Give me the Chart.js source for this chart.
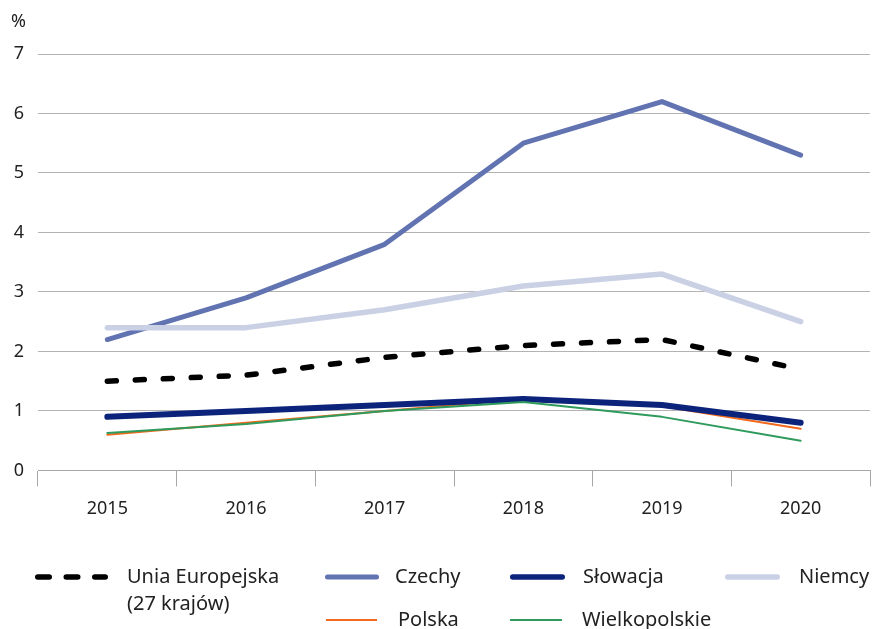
<!DOCTYPE html>
<html>
<head>
<meta charset="utf-8">
<script src="https://cdn.jsdelivr.net/npm/chart.js@4/dist/chart.umd.min.js"></script>
<style>
  html, body { margin: 0; padding: 0; background: #fff; }
  #wrap { position: relative; width: 872px; height: 629px; font-family: "Noto Sans", sans-serif; color: #222; }
  canvas { position: absolute; left: 0; top: 0; }
  .t { position: absolute; font-size: 20px; line-height: 26px; white-space: nowrap; color: #222; }
  svg.sw { position: absolute; overflow: visible; }
</style>
</head>
<body>
<div id="wrap">
  <canvas id="c" width="872" height="629"></canvas>
  <div class="t" id="unit" style="left:11px; top:7px; font-size:18px;"></div>
  <div id="legend"></div>
</div>
<script>
const years = ["2015", "2016", "2017", "2018", "2019", "2020"];
const yTicks = [0, 1, 2, 3, 4, 5, 6, 7];
const unitLabel = "%";

const euLabel = ["Unia Europejska", "(27 krajów)"];
const euValues = [1.5, 1.6, 1.9, 2.1, 2.2, 1.7];
const czechyValues = [2.2, 2.9, 3.8, 5.5, 6.2, 5.3];
const slowacjaValues = [0.9, 1.0, 1.1, 1.2, 1.1, 0.8];
const niemcyValues = [2.4, 2.4, 2.7, 3.1, 3.3, 2.5];
const polskaValues = [0.6, 0.8, 1.0, 1.2, 1.08, 0.7];
const wielkopolskieValues = [0.63, 0.78, 1.0, 1.15, 0.9, 0.5];

document.getElementById("unit").textContent = unitLabel;

const C_CZ = "#6173b1", C_SK = "#0b237a", C_DE = "#cbd1e5", C_PL = "#f2681c", C_WLKP = "#2e9a5c", C_EU = "#000000";

const datasets = [
  { label: "Niemcy", data: niemcyValues, borderColor: C_DE, borderWidth: 5.5 },
  { label: "Czechy", data: czechyValues, borderColor: C_CZ, borderWidth: 5 },
  { label: euLabel.join(" "), data: euValues, borderColor: C_EU, borderWidth: 5.5, borderDash: [9, 19], borderCapStyle: "round" },
  { label: "Wielkopolskie", data: wielkopolskieValues, borderColor: C_WLKP, borderWidth: 2 },
  { label: "Słowacja", data: slowacjaValues, borderColor: C_SK, borderWidth: 6 },
  { label: "Polska", data: polskaValues, borderColor: C_PL, borderWidth: 2 }
].map(d => Object.assign({ pointRadius: 0, pointHoverRadius: 0, tension: 0, fill: false, borderCapStyle: d.borderCapStyle || "round", borderJoinStyle: "round" }, d));

new Chart(document.getElementById("c"), {
  type: "line",
  data: { labels: years, datasets },
  options: {
    responsive: false,
    animation: false,
    events: [],
    layout: { padding: { left: 0, right: 2, top: 54, bottom: 97 } },
    plugins: { legend: { display: false }, tooltip: { enabled: false } },
    scales: {
      x: {
        offset: true,
        grid: { offset: true, drawOnChartArea: false, drawTicks: true, tickLength: 16, color: "#a6a6a6", lineWidth: 1 },
        border: { display: true, color: "#a6a6a6", width: 1 },
        ticks: { color: "#222", font: { family: "Noto Sans", size: 18 }, padding: 12, maxRotation: 0 }
      },
      y: {
        min: 0, max: 7,
        afterBuildTicks: s => { s.ticks = yTicks.map(v => ({ value: v })); },
        afterFit: s => { s.width = 38; },
        grid: { drawTicks: false, color: "#b3b3b3", lineWidth: 1 },
        border: { display: false },
        ticks: { color: "#222", font: { family: "Noto Sans", size: 18 }, padding: 14 }
      }
    }
  }
});

// HTML legend
const legendItems = [
  { text: euLabel, color: C_EU, width: 5.5, dash: true, x1: 35, x2: 108, y: 577, tx: 127, ty: 576 },
  { text: ["Czechy"], color: C_CZ, width: 5, x1: 325, x2: 379, y: 577, tx: 395, ty: 576 },
  { text: ["Słowacja"], color: C_SK, width: 5.5, x1: 510, x2: 565, y: 577, tx: 583, ty: 576 },
  { text: ["Niemcy"], color: C_DE, width: 5.5, x1: 725, x2: 780, y: 577, tx: 799, ty: 576 },
  { text: ["Polska"], color: C_PL, width: 2, x1: 326, x2: 377, y: 620, tx: 398, ty: 619 },
  { text: ["Wielkopolskie"], color: C_WLKP, width: 2, x1: 510, x2: 562, y: 620, tx: 582, ty: 619 }
];
const lg = document.getElementById("legend");
legendItems.forEach(it => {
  const svg = document.createElementNS("http://www.w3.org/2000/svg", "svg");
  svg.setAttribute("class", "sw");
  svg.setAttribute("width", 872); svg.setAttribute("height", 629);
  svg.style.left = "0px"; svg.style.top = "0px";
  const ln = document.createElementNS("http://www.w3.org/2000/svg", "line");
  const cap = it.width / 2;
  ln.setAttribute("x1", it.x1 + cap); ln.setAttribute("x2", it.x2 - cap);
  ln.setAttribute("y1", it.y); ln.setAttribute("y2", it.y);
  ln.setAttribute("stroke", it.color); ln.setAttribute("stroke-width", it.width);
  ln.setAttribute("stroke-linecap", it.width > 3 ? "round" : "butt");
  if (it.width <= 3) { ln.setAttribute("x1", it.x1); ln.setAttribute("x2", it.x2); }
  if (it.dash) ln.setAttribute("stroke-dasharray", "11.5 17");
  svg.appendChild(ln);
  lg.appendChild(svg);
  it.text.forEach((t, i) => {
    const d = document.createElement("div");
    d.className = "t";
    d.textContent = t;
    d.style.left = it.tx + "px";
    d.style.top = (it.ty - 13 + i * 27) + "px";
    lg.appendChild(d);
  });
});
</script>
</body>
</html>
